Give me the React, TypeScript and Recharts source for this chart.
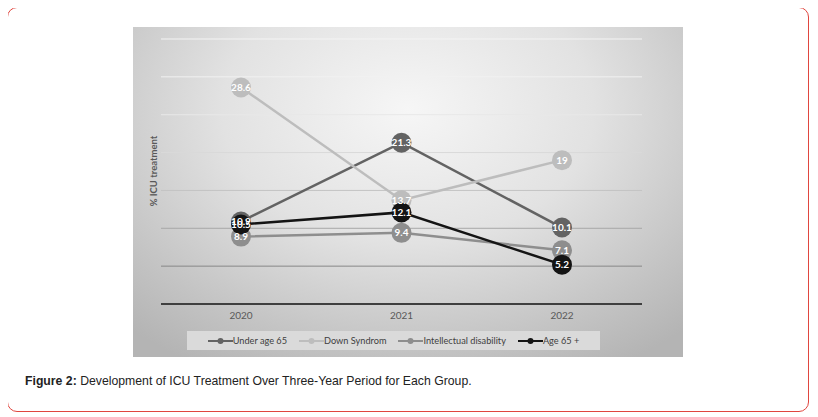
import { LineChart, Line, XAxis, YAxis, CartesianGrid, Legend, LabelList } from "recharts"

const years = ["2020", "2021", "2022"]
const underAge65 = [10.9, 21.3, 10.1]
const downSyndrom = [28.6, 13.7, 19]
const intellectual = [8.9, 9.4, 7.1]
const age65Plus = [10.5, 12.1, 5.2]
const yTicks = [0, 5, 10, 15, 20, 25, 30, 35]

const series = [
  { key: "under", name: "Under age 65", color: "#636363", values: underAge65 },
  { key: "down", name: "Down Syndrom", color: "#bdbdbd", values: downSyndrom },
  { key: "intel", name: "Intellectual disability", color: "#8e8e8e", values: intellectual },
  { key: "old", name: "Age 65 +", color: "#141414", values: age65Plus },
]

const data = years.map((year, i) => {
  const row: { [k: string]: string | number } = { year }
  series.forEach((s) => { row[s.key] = s.values[i] })
  return row
})

const font = "Lato, 'Open Sans', sans-serif"

const renderValue = (props: any) => {
  const { x, y, value } = props
  return (
    <text x={x} y={y} dy="0.35em" textAnchor="middle" fill="#ffffff" fontSize={10} fontWeight={700} fontFamily={font}>
      {value}
    </text>
  )
}

const renderLegend = () => (
  <div style={{ display: "flex", justifyContent: "center", alignItems: "center", gap: 12, height: 19, background: "#dadada", fontFamily: font, fontSize: 9.2, color: "#404040" }}>
    {series.map((s) => (
      <div key={s.key} style={{ display: "flex", alignItems: "center" }}>
        <svg width={25} height={8}>
          <line x1={0} y1={4} x2={25} y2={4} stroke={s.color} strokeWidth={2} />
          <circle cx={12.5} cy={4} r={3} fill={s.color} />
        </svg>
        <span>{s.name}</span>
      </div>
    ))}
  </div>
)

// grid lines fade from near white at the top to mid grey near the axis
const renderGridLine = (props: any) => {
  const { x1, x2, y1, y2 } = props
  if (y1 > 270) return <g />
  const t = Math.max(0, Math.min(1, (y1 - 12) / 228))
  const c = Math.round(244 - t * t * 110)
  return <line x1={x1} x2={x2} y1={y1} y2={y2} stroke={`rgb(${c},${c},${c})`} strokeWidth={1} />
}

export default function App() {
  return (
    <div style={{ position: "relative", width: 800, height: 403, marginLeft: -1, marginTop: -1, border: "1px solid #e0463f", borderRadius: 10 }}>
      <div style={{ position: "absolute", left: 125, top: 19, width: 550, height: 330, background: "radial-gradient(ellipse 75% 90% at 50% 25%, #f6f6f6 0%, #e2e2e2 45%, #c4c4c4 80%, #b4b4b4 100%)" }}>
        <LineChart width={550} height={330} data={data} margin={{ top: 12, right: 41, left: 28, bottom: 7 }}>
          <CartesianGrid vertical={false} horizontal={renderGridLine} />
          <XAxis dataKey="year" height={27} padding={{ left: 80, right: 80 }} tickLine={false} axisLine={{ stroke: "#3f3f3f", strokeWidth: 2 }} tick={{ fill: "#595959", fontSize: 10, fontFamily: font }} />
          <YAxis hide domain={[0, 35]} ticks={yTicks} />
          <Legend content={renderLegend} wrapperStyle={{ top: 304, left: 54, width: 413, height: 19 }} />
          {series.map((s) => (
            <Line key={s.key} dataKey={s.key} name={s.name} stroke={s.color} strokeWidth={2.5} dot={{ r: 10, fill: s.color, stroke: s.color, strokeWidth: 0 }} activeDot={false} isAnimationActive={false}>
              <LabelList dataKey={s.key} content={renderValue} />
            </Line>
          ))}
        </LineChart>
        <div style={{ position: "absolute", left: 20, top: 144, transform: "translate(-50%, -50%) rotate(-90deg)", whiteSpace: "nowrap", fontFamily: font, fontSize: 9.5, fontWeight: 700, color: "#595959" }}>
          % ICU treatment
        </div>
      </div>
      <div style={{ position: "absolute", left: 17, top: 366, fontFamily: "'Liberation Sans', Arial, sans-serif", fontSize: 12.25, color: "#222" }}>
        <b>Figure 2:</b> Development of ICU Treatment Over Three-Year Period for Each Group.
      </div>
    </div>
  )
}
